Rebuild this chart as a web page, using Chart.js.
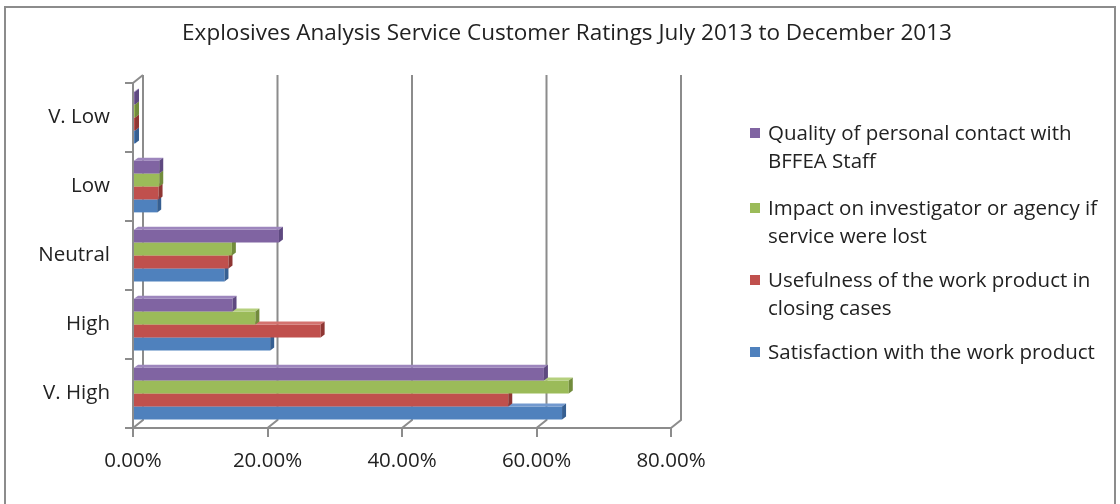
<!DOCTYPE html>
<html><head><meta charset="utf-8">
<script src="https://cdn.jsdelivr.net/npm/chart.js@4"></script>
<style>
html,body{margin:0;padding:0;background:#fff;}
#wrap{position:relative;width:1120px;height:504px;overflow:hidden;background:#fff;}
#frame{position:absolute;left:4px;top:6px;width:1112px;height:540px;border:2px solid #8c8c8c;box-sizing:border-box;pointer-events:none;}
#c{position:absolute;left:0;top:0;}
#legend{position:absolute;left:750px;top:119px;width:350px;font-family:'Open Sans',sans-serif;font-size:20.5px;color:#222;}
.item{position:relative;padding-left:18px;line-height:27.5px;margin-bottom:17px;white-space:normal;}
.item:first-child{margin-bottom:20px;}
.sw{position:absolute;left:0;top:9px;width:10px;height:10px;}
</style></head>
<body>
<div id="wrap">
<canvas id="c" width="1120" height="504"></canvas>
<div id="legend"></div>
<div id="frame"></div>
</div>
<script>
const categories = ['V. Low','Low','Neutral','High','V. High'];
const seriesNames = [
  'Quality of personal contact with BFFEA Staff',
  'Impact on investigator or agency if service were lost',
  'Usefulness of the work product in closing cases',
  'Satisfaction with the work product'
];
const quality      = [0.3, 3.9, 21.7, 14.8, 61.1];
const impact       = [0.3, 3.9, 14.7, 18.2, 64.8];
const usefulness   = [0.3, 3.8, 14.2, 27.9, 55.8];
const satisfaction = [0.3, 3.6, 13.6, 20.4, 63.8];
const xTicks = [0, 20, 40, 60, 80];
const titleText = 'Explosives Analysis Service Customer Ratings July 2013 to December 2013';

const colors = ['#8064A2','#9BBB59','#C0504D','#4F81BD'];
const topColors = ['#9d86bd','#b5d07e','#d4726f','#7299cf'];
const sideColors = ['#5e4980','#728c3c','#8f3633','#365f91'];
const seriesValues = [quality, impact, usefulness, satisfaction];

const FONT = 'Open Sans';
const GRID = '#8c8c8c';
const DX = 10, DY = 8;

const depthPlugin = {
  id: 'depth3d',
  beforeDatasetsDraw(chart) {
    const ctx = chart.ctx, xs = chart.scales.x, ca = chart.chartArea;
    ctx.save();
    ctx.strokeStyle = GRID; ctx.lineWidth = 2;
    xTicks.forEach(v => {
      const px = xs.getPixelForValue(v);
      ctx.beginPath();
      ctx.moveTo(px, ca.bottom);
      ctx.lineTo(px + DX, ca.bottom - DY);
      ctx.lineTo(px + DX, ca.top - DY);
      ctx.stroke();
    });
    ctx.beginPath();
    ctx.moveTo(ca.left, ca.top);
    ctx.lineTo(ca.left + DX, ca.top - DY);
    ctx.stroke();
    ctx.restore();
  },
  afterDatasetDraw(chart, args) {
    const ctx = chart.ctx, i = args.index;
    const dx = 4, dy = 3;
    ctx.save();
    args.meta.data.forEach(bar => {
      const p = bar.getProps(['x','y','base','height'], true);
      const top = p.y - p.height/2, bottom = p.y + p.height/2;
      ctx.fillStyle = topColors[i];
      ctx.beginPath();
      ctx.moveTo(p.base, top); ctx.lineTo(p.base + dx, top - dy);
      ctx.lineTo(p.x + dx, top - dy); ctx.lineTo(p.x, top); ctx.closePath(); ctx.fill();
      ctx.fillStyle = sideColors[i];
      ctx.beginPath();
      ctx.moveTo(p.x, top); ctx.lineTo(p.x + dx, top - dy);
      ctx.lineTo(p.x + dx, bottom - dy); ctx.lineTo(p.x, bottom); ctx.closePath(); ctx.fill();
    });
    ctx.restore();
  }
};

const chart = new Chart(document.getElementById('c'), {
  type: 'bar',
  data: {
    labels: categories,
    datasets: seriesNames.map((n, i) => ({
      label: n,
      data: seriesValues[i],
      backgroundColor: colors[i],
      borderWidth: 0,
      categoryPercentage: 0.75,
      barPercentage: 1.0
    }))
  },
  options: {
    indexAxis: 'y',
    responsive: false,
    animation: false,
    layout: { padding: { left: 14, right: 0, top: 0, bottom: 0 } },
    plugins: {
      legend: { display: false },
      tooltip: { enabled: false },
      title: {
        display: true, text: titleText, color: '#222',
        font: { family: FONT, size: 22.5, weight: 'normal' },
        padding: { top: 20, bottom: 36 }
      }
    },
    scales: {
      x: {
        min: 0, max: 80,
        afterBuildTicks: s => { s.ticks = xTicks.map(v => ({ value: v })); },
        afterFit: s => { s.height = 76; },
        ticks: { callback: v => v.toFixed(2) + '%', color: '#222', padding: 12, font: { family: FONT, size: 20.5 } },
        grid: { drawOnChartArea: false, drawTicks: true, tickLength: 9, color: GRID, lineWidth: 2 },
        border: { color: GRID, width: 2 }
      },
      y: {
        afterFit: s => { s.width = 119; },
        ticks: { color: '#222', padding: 15, font: { family: FONT, size: 20.5 } },
        grid: { drawOnChartArea: false, drawTicks: true, tickLength: 8, color: GRID, lineWidth: 2, offset: true },
        border: { color: GRID, width: 2 }
      },
      spacer: {
        type: 'linear', position: 'right', axis: 'y',
        afterFit: s => { s.width = 449; },
        ticks: { display: false },
        grid: { display: false, drawTicks: false },
        border: { display: false }
      }
    }
  },
  plugins: [depthPlugin]
});

const leg = document.getElementById('legend');
chart.data.datasets.forEach(ds => {
  const it = document.createElement('div'); it.className = 'item';
  const sw = document.createElement('span'); sw.className = 'sw'; sw.style.background = ds.backgroundColor;
  it.appendChild(sw);
  it.appendChild(document.createTextNode(ds.label));
  leg.appendChild(it);
});
</script>
</body></html>
